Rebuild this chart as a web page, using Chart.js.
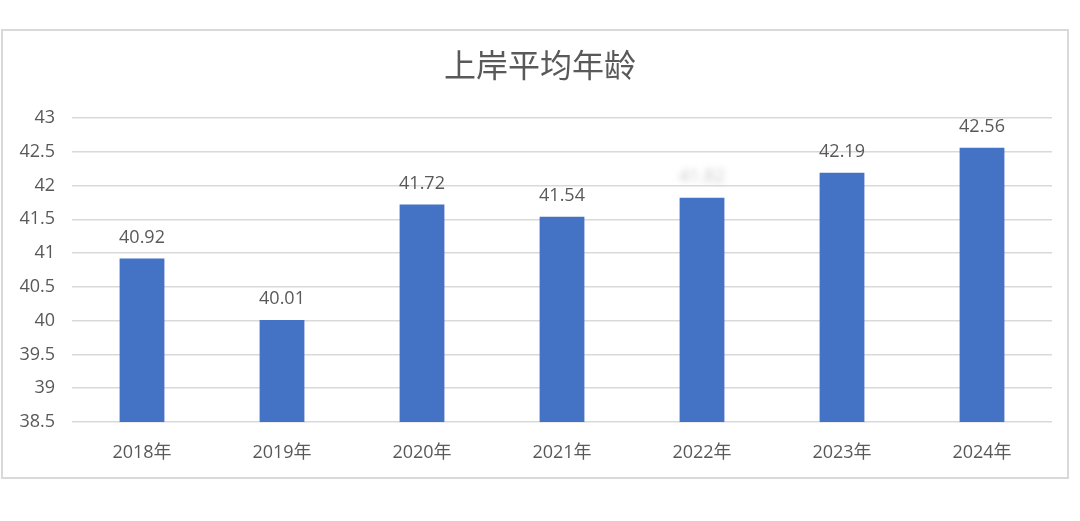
<!DOCTYPE html>
<html>
<head>
<meta charset="utf-8">
<script src="https://cdn.jsdelivr.net/npm/chart.js@4"></script>
<style>
    html, body { margin: 0; padding: 0; background: #ffffff; }
    #wrap { position: relative; width: 1080px; height: 521px; }
</style>
</head>
<body>
<div id="wrap"><canvas id="age-chart"></canvas></div>
<script>
// Chart data
const chartTitle = '上岸平均年龄';
const years = ['2018年', '2019年', '2020年', '2021年', '2022年', '2023年', '2024年'];
const avgAge = [40.92, 40.01, 41.72, 41.54, 41.82, 42.19, 42.56];
const yTicks = [38.5, 39, 39.5, 40, 40.5, 41, 41.5, 42, 42.5, 43];
// label of 2022 is smudged in the source picture
const smudgedLabels = ['2022年'];

const TEXT = '#595959';
const GRID = '#d9d9d9';
const FONT = '"Open Sans", "Noto Sans CJK SC", sans-serif';

// Outer frame and centred title
const framePlugin = {
    id: 'frame',
    beforeDraw(chart) {
        const ctx = chart.ctx;
        ctx.save();
        ctx.strokeStyle = GRID;
        ctx.lineWidth = 2;
        ctx.strokeRect(2, 30, 1066, 448);
        ctx.fillStyle = TEXT;
        ctx.font = '32px ' + FONT;
        ctx.textAlign = 'center';
        ctx.textBaseline = 'middle';
        ctx.fillText(chartTitle, 540, 68);
        ctx.restore();
    }
};

// Value labels above the bars
const valueLabelPlugin = {
    id: 'valueLabels',
    afterDatasetsDraw(chart) {
        const ctx = chart.ctx;
        const meta = chart.getDatasetMeta(0);
        ctx.save();
        ctx.font = '18px ' + FONT;
        ctx.textAlign = 'center';
        ctx.textBaseline = 'middle';
        meta.data.forEach((bar, i) => {
            const text = avgAge[i].toFixed(2);
            if (smudgedLabels.includes(years[i])) {
                ctx.filter = 'blur(3px)';
                ctx.fillStyle = '#c8c8c8';
            } else {
                ctx.filter = 'none';
                ctx.fillStyle = TEXT;
            }
            ctx.fillText(text, bar.x, bar.y - 21);
        });
        ctx.restore();
    }
};

new Chart(document.getElementById('age-chart').getContext('2d'), {
    type: 'bar',
    data: {
        labels: years,
        datasets: [{
            data: avgAge,
            backgroundColor: '#4472c4',
            borderWidth: 0,
            categoryPercentage: 1,
            barPercentage: 0.32
        }]
    },
    options: {
        responsive: true,
        maintainAspectRatio: false,
        animation: false,
        layout: {
            padding: { top: 118, right: 28, bottom: 0, left: 0 }
        },
        plugins: {
            legend: { display: false },
            tooltip: { enabled: false },
            title: { display: false }
        },
        scales: {
            x: {
                grid: { display: false },
                border: { display: false },
                ticks: {
                    color: TEXT,
                    padding: 12,
                    font: { family: FONT, size: 18 }
                },
                afterFit(scale) { scale.height = 99; }
            },
            y: {
                min: 38.5,
                max: 43,
                grid: { color: GRID, lineWidth: 1.5, drawTicks: false },
                border: { display: false },
                afterBuildTicks(scale) {
                    scale.ticks = yTicks.map(v => ({ value: v }));
                },
                ticks: {
                    color: TEXT,
                    padding: 17,
                    font: { family: FONT, size: 18 },
                    callback: v => String(v)
                },
                afterFit(scale) { scale.width = 72; }
            }
        }
    },
    plugins: [framePlugin, valueLabelPlugin]
});
</script>
</body>
</html>
